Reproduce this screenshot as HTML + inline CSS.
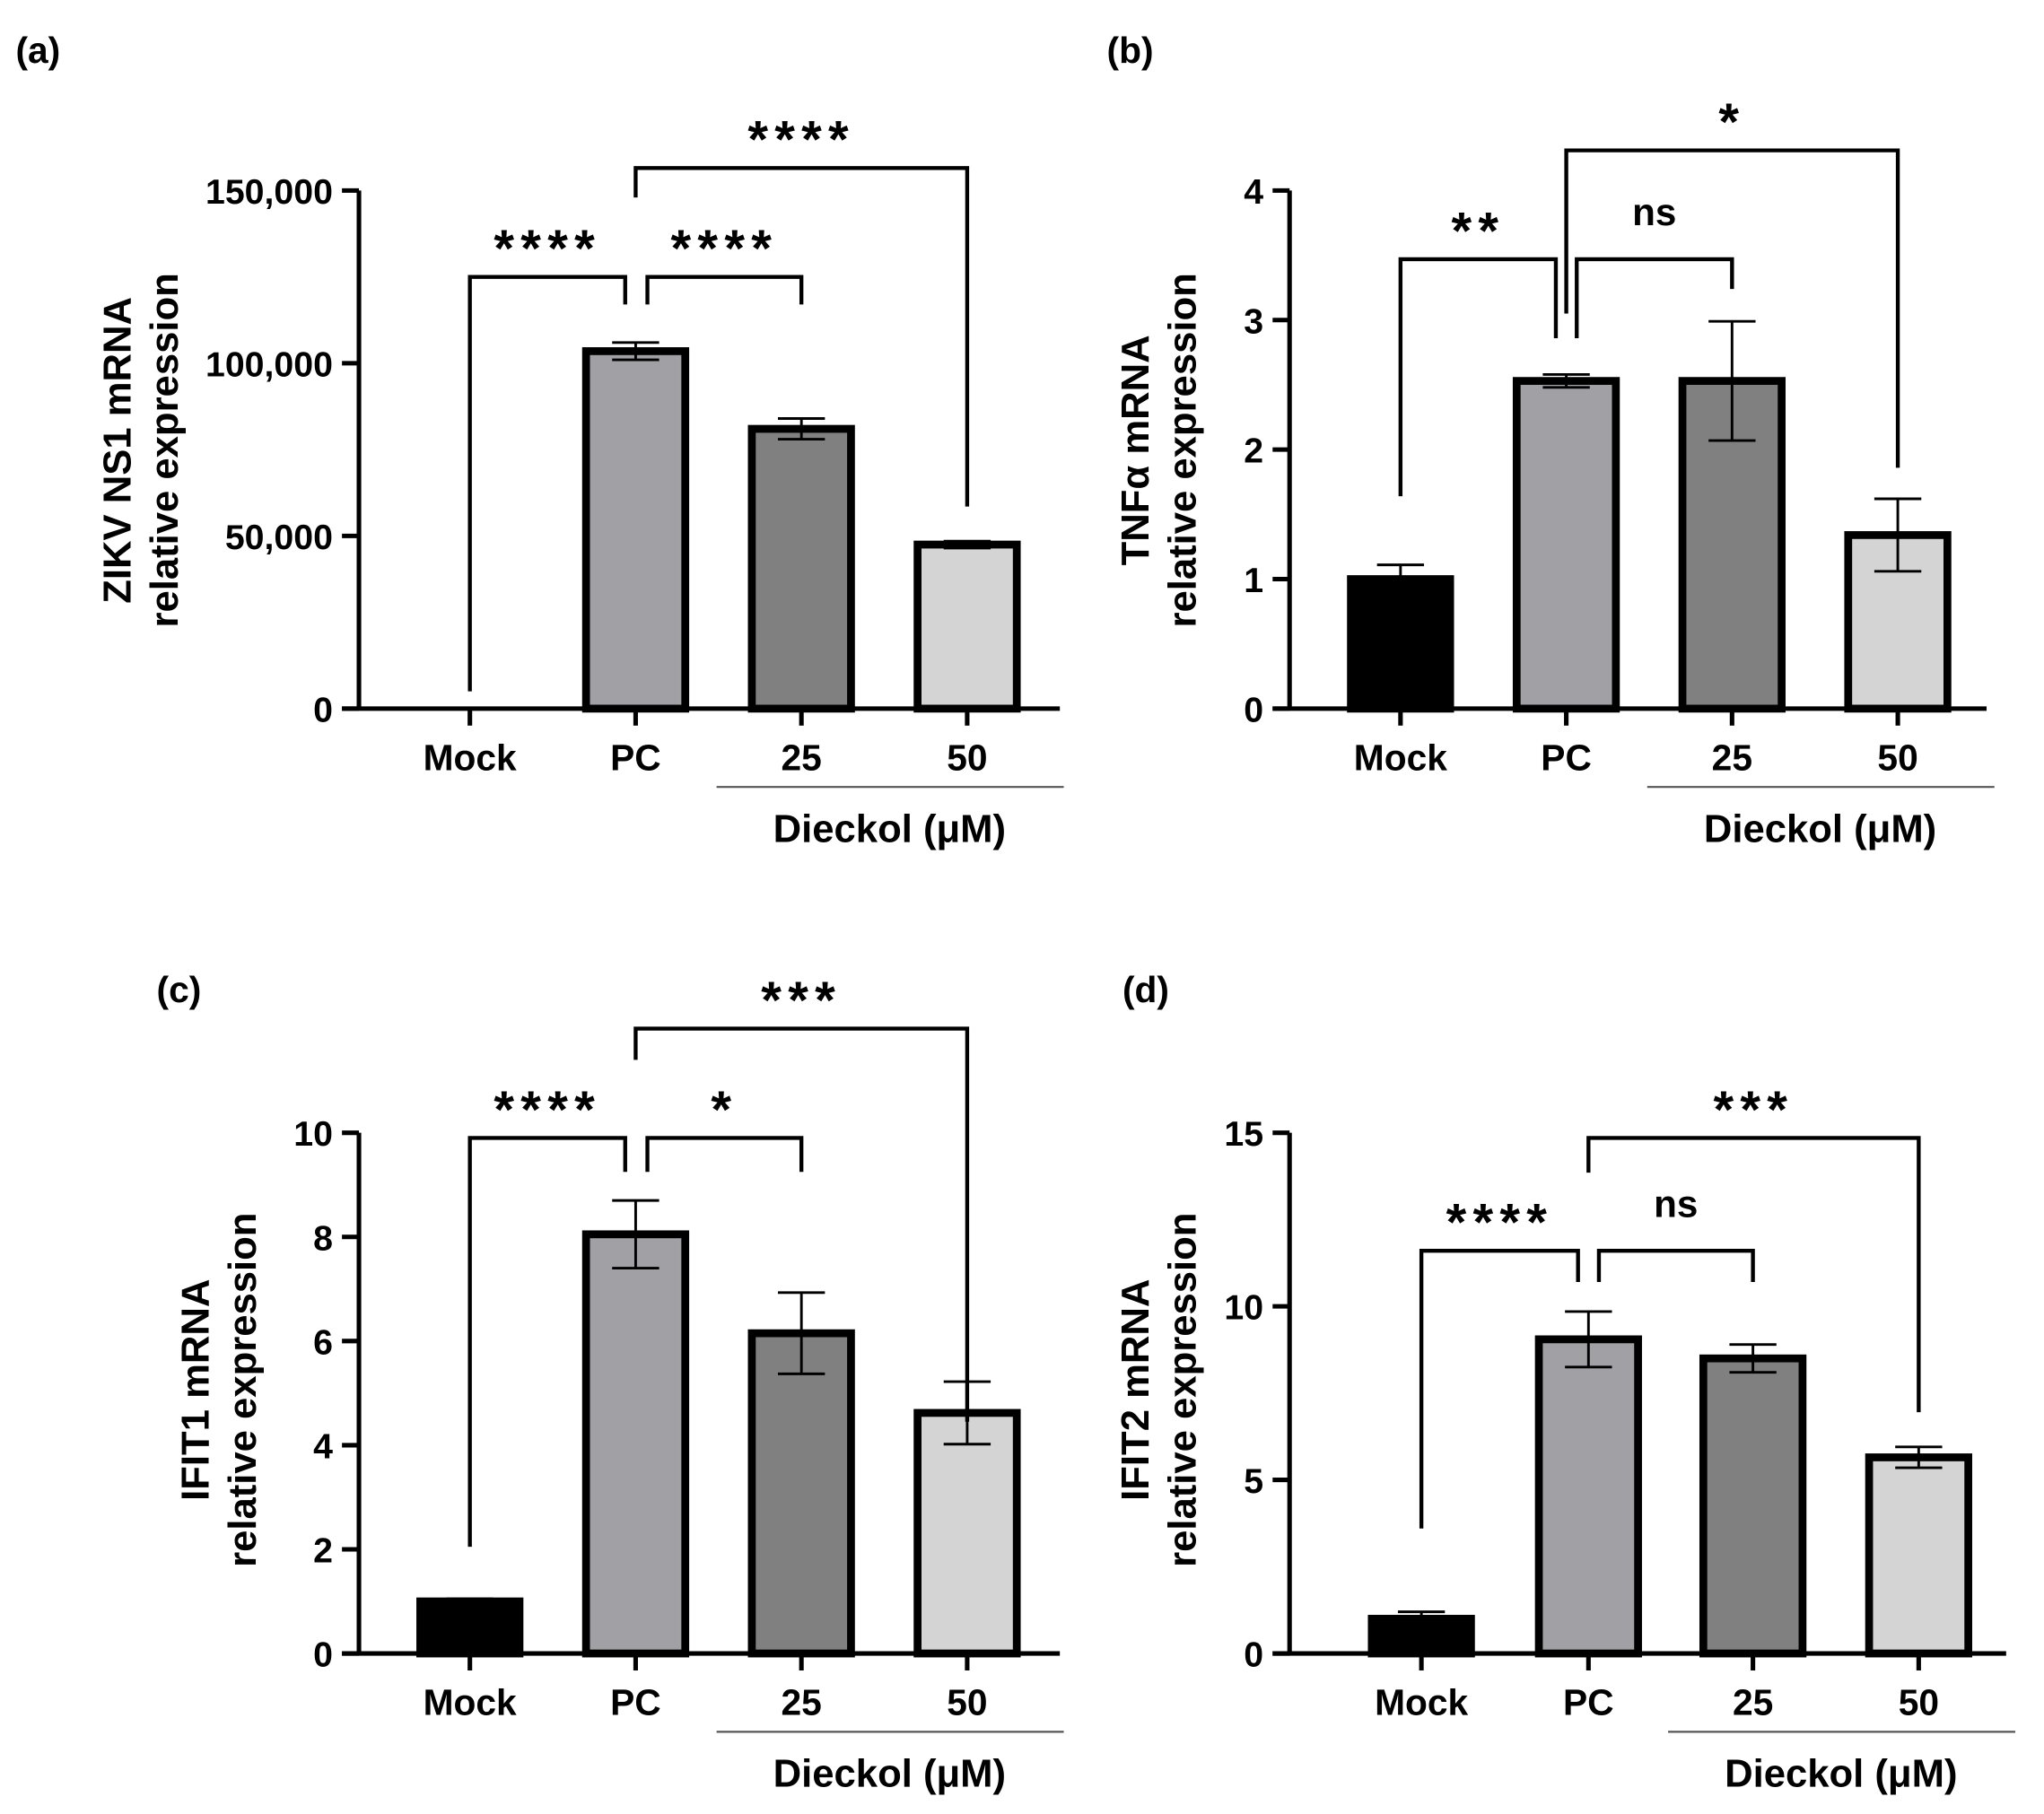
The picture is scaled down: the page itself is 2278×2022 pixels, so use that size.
<!DOCTYPE html>
<html><head><meta charset="utf-8"><style>html,body{margin:0;padding:0;background:#fff}svg{display:block}text{font-family:"Liberation Sans",Arial,sans-serif;font-weight:bold;fill:#000}</style></head>
<body>
<svg id="fig" width="2278" height="2022" viewBox="0 0 1566 1390" preserveAspectRatio="none" xmlns="http://www.w3.org/2000/svg"></svg>
<script>
const categories = ["Mock","PC","25","50"];
const valuesA = [0, 103500, 81000, 47500];
const errorsA = [0, 2500, 3000, 1000];
const ticksA = [0, 50000, 100000, 150000];
const tickLabelsA = ["0","50,000","100,000","150,000"];
const valuesB = [1.0, 2.53, 2.53, 1.34];
const errorsB = [0.11, 0.05, 0.46, 0.28];
const ticksB = [0,1,2,3,4];
const valuesC = [1.0, 8.05, 6.15, 4.62];
const errorsC = [0.05, 0.65, 0.78, 0.6];
const ticksC = [0,2,4,6,8,10];
const valuesD = [1.0, 9.05, 8.5, 5.65];
const errorsD = [0.2, 0.8, 0.4, 0.3];
const ticksD = [0,5,10,15];
const NS = "http://www.w3.org/2000/svg";
const svg = document.getElementById("fig");
const fills = ["#000","#a1a1a5","#808080","#d4d4d4"];
function mk(tag, attrs, parent){const e=document.createElementNS(NS,tag);for(const k in attrs)e.setAttribute(k,attrs[k]);(parent||svg).appendChild(e);return e;}
function txt(s,x,y,size,parent,anchor,extra){const t=mk("text",Object.assign({x:x,y:y,"font-size":size,"text-anchor":anchor||"middle"},extra||{}),parent);t.textContent=s;return t;}
function panel(p){
  const g=mk("g",{});
  
  
  const ymax=p.ticks[p.ticks.length-1];
  const y=v=>p.y0-(v/ymax)*(p.y0-p.yTop);
  const xs=p.xc;
  const lab=txt("("+p.id+")",p.lx,p.ly,28,g,"start");
  
  
  p.values.forEach((v,i)=>{
    if(v<=0) return;
    const top=y(v);
    const r=mk("rect",{x:xs[i]-38,y:top,width:76,height:p.y0-top,fill:fills[i],stroke:"#000","stroke-width":6},g);
    
    
    const e=p.errors[i];
    const eg=mk("path",{d:`M${xs[i]} ${y(v+e)}V${y(v-e)}M${xs[i]-18} ${y(v+e)}h36M${xs[i]-18} ${y(v-e)}h36`,stroke:"#000","stroke-width":2,fill:"none"},g);
    
    
  });
  const ax=mk("path",{d:`M${p.ax} ${p.yTop}V${p.y0}M${p.ax-13} ${p.y0}H${p.xEnd}`,stroke:"#000","stroke-width":3.5,fill:"none"},g);
  
  
  p.ticks.forEach((t,i)=>{
    mk("path",{d:`M${p.ax-13} ${y(t)}H${p.ax}`,stroke:"#000","stroke-width":3.5},g);
    const tl=txt(p.tickLabels?p.tickLabels[i]:String(t),p.ax-20,y(t)+10,27,g,"end");
    
    
  });
  xs.forEach((x,i)=>{
    mk("path",{d:`M${x} ${p.y0}v13`,stroke:"#000","stroke-width":3.5},g);
    const xl=txt(categories[i],x,p.y0+47,28,g);
    
    
  });
  mk("path",{d:`M${xs[2]-65} ${p.y0+60}H${xs[3]+74}`,stroke:"#555","stroke-width":1.5},g);
  const dl=txt("Dieckol (μM)",(xs[2]+xs[3])/2+4,p.y0+102,30,g);
  
  
  const tg=mk("g",{transform:`translate(${p.tx},${p.tyc}) rotate(-90)`},g);
  
  
  txt(p.title,0,0,30,tg); txt("relative expression",0,36,30,tg,"middle");
  p.brackets.forEach(b=>{
    const bp=mk("path",{d:`M${b.x1} ${y(b.d1)}V${y(b.lvl)}H${b.x2}V${y(b.d2)}`,stroke:"#000","stroke-width":3,fill:"none"},g);
    
    
    const st=txt(b.s,(b.x1+b.x2)/2,y(b.lvl)-(b.s==="ns"?26:8),b.s==="ns"?29:40,g,"middle",b.s==="ns"?{"font-weight":"normal"}:{"letter-spacing":"5"});
    
    
  });
}
const xa=[360,487,614,741], xb=[1073,1200,1327,1454], xd=[1089,1217,1343,1470];
panel({id:"a",lx:12,ly:48,ax:275,y0:543,yTop:146,xEnd:812,xc:xa,values:valuesA,errors:errorsA,ticks:ticksA,tickLabels:tickLabelsA,title:"ZIKV NS1 mRNA",tx:100,tyc:345,
 brackets:[{x1:360,x2:479,lvl:125000,d1:5000,d2:117000,s:"****"},{x1:496,x2:614,lvl:125000,d1:117000,d2:117000,s:"****"},{x1:487,x2:741,lvl:156500,d1:148000,d2:58500,s:"****"}]});
panel({id:"b",lx:848,ly:48,ax:988,y0:543,yTop:146,xEnd:1522,xc:xb,values:valuesB,errors:errorsB,ticks:ticksB,title:"TNFα mRNA",tx:880,tyc:345,
 brackets:[{x1:1073,x2:1192,lvl:3.47,d1:1.64,d2:2.86,s:"**"},{x1:1208,x2:1327,lvl:3.47,d1:2.86,d2:3.24,s:"ns"},{x1:1200,x2:1454,lvl:4.31,d1:3.05,d2:1.86,s:"*"}]});
panel({id:"c",lx:120,ly:768,ax:275,y0:1267,yTop:868,xEnd:812,xc:xa,values:valuesC,errors:errorsC,ticks:ticksC,title:"IFIT1 mRNA",tx:160,tyc:1065,
 brackets:[{x1:360,x2:479,lvl:9.9,d1:2.05,d2:9.25,s:"****"},{x1:496,x2:614,lvl:9.9,d1:9.25,d2:9.25,s:"*"},{x1:487,x2:741,lvl:12.0,d1:11.4,d2:4.45,s:"***"}]});
panel({id:"d",lx:860,ly:768,ax:988,y0:1267,yTop:868,xEnd:1537,xc:xd,values:valuesD,errors:errorsD,ticks:ticksD,title:"IFIT2 mRNA",tx:880,tyc:1065,
 brackets:[{x1:1089,x2:1209,lvl:11.6,d1:3.6,d2:10.7,s:"****"},{x1:1225,x2:1343,lvl:11.6,d1:10.7,d2:10.7,s:"ns"},{x1:1217,x2:1470,lvl:14.85,d1:13.85,d2:6.95,s:"***"}]});
</script>
</body></html>
